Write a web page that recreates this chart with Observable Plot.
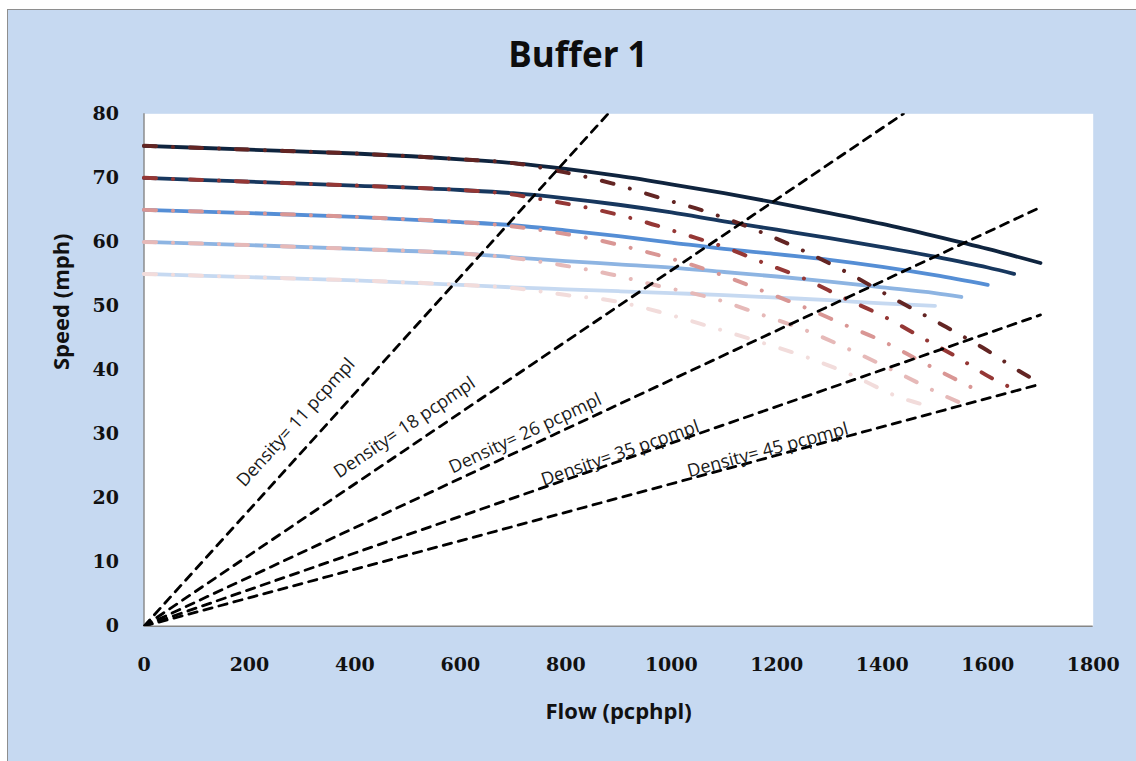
<!DOCTYPE html>
<html>
<head>
<meta charset="utf-8">
<script src="https://cdn.jsdelivr.net/npm/d3@7"></script>
<script src="https://cdn.jsdelivr.net/npm/@observablehq/plot@0.6"></script>
<style>
  html, body { margin: 0; padding: 0; background: #ffffff; }
  #wrap { position: relative; width: 1136px; height: 761px; overflow: hidden; background: #ffffff; }
  #bg { position: absolute; left: 7px; top: 9px; width: 1140px; height: 760px; background: #c6d9f1; border: 1.5px solid #8e8e8e; }
  #title { position: absolute; left: 0; top: 33px; width: 1156px; text-align: center; font: bold 35px "Open Sans", sans-serif; line-height: 42px; color: #0d0d0d; }
  #chart { position: absolute; left: 0; top: 0; }
</style>
</head>
<body>
<div id="wrap">
  <div id="bg"></div>
  <div id="title">Buffer 1</div>
  <div id="chart"></div>
</div>
<script>
// ---- tick labels ----
const xTicks = [0, 200, 400, 600, 800, 1000, 1200, 1400, 1600, 1800];
const yTicks = [0, 10, 20, 30, 40, 50, 60, 70, 80];

// ---- speed-flow curves (solid blue) ----
const blueFlow75 = [0, 200, 400, 600, 700, 800, 900, 1000, 1100, 1200, 1300, 1400, 1500, 1600, 1700];
const blueSpeed75 = [75, 74.4, 73.8, 72.9, 72.3, 71.4, 70.3, 69.0, 67.6, 66.1, 64.5, 62.8, 60.9, 58.9, 56.7];
const blueFlow70 = [0, 200, 400, 600, 700, 800, 900, 1000, 1100, 1200, 1300, 1400, 1500, 1600, 1650];
const blueSpeed70 = [70, 69.4, 68.8, 68.1, 67.6, 66.8, 65.8, 64.6, 63.2, 61.9, 60.6, 59.2, 57.7, 56.0, 55.0];
const blueFlow65 = [0, 200, 400, 600, 700, 800, 900, 1000, 1100, 1200, 1300, 1400, 1500, 1600];
const blueSpeed65 = [65, 64.5, 63.9, 63.1, 62.6, 61.8, 60.9, 59.9, 58.9, 58.1, 57.2, 56.1, 54.8, 53.3];
const blueFlow60 = [0, 200, 400, 600, 700, 800, 900, 1000, 1100, 1200, 1300, 1400, 1500, 1550];
const blueSpeed60 = [60, 59.5, 58.9, 58.2, 57.6, 57.0, 56.5, 56.0, 55.3, 54.6, 53.8, 52.9, 52.0, 51.4];
const blueFlow55 = [0, 200, 400, 600, 700, 800, 900, 1000, 1100, 1200, 1300, 1400, 1500];
const blueSpeed55 = [55, 54.5, 54.0, 53.3, 52.9, 52.6, 52.3, 52.0, 51.7, 51.3, 50.9, 50.4, 50.0];

// ---- buffer curves (dash-dot red) ----
const redFlow75 = [0, 200, 400, 600, 700, 796, 889, 981, 1071, 1165, 1251, 1334, 1412, 1506, 1590, 1675, 1700];
const redSpeed75 = [75, 74.4, 73.8, 72.9, 72.3, 70.9, 69.1, 66.8, 64.6, 61.7, 58.6, 55.2, 51.6, 47.4, 43.5, 39.1, 38.0];
const redFlow70 = [0, 200, 400, 600, 680, 771, 860, 942, 1024, 1100, 1179, 1254, 1326, 1402, 1472, 1542, 1608, 1645];
const redSpeed70 = [70, 69.4, 68.8, 68.1, 67.6, 66.4, 65.0, 63.3, 61.2, 59.2, 56.6, 54.2, 51.3, 48.4, 45.2, 42.0, 38.7, 37.2];
const redFlow65 = [0, 200, 400, 600, 680, 780, 860, 945, 1024, 1100, 1181, 1258, 1330, 1406, 1472, 1545, 1595];
const redSpeed65 = [65, 64.5, 63.9, 63.1, 62.6, 61.5, 60.3, 58.6, 56.8, 54.7, 52.1, 49.6, 47.0, 44.3, 41.4, 38.3, 36.2];
const redFlow60 = [0, 200, 400, 600, 700, 790, 882, 967, 1087, 1169, 1258, 1351, 1434, 1520, 1545];
const redSpeed60 = [60, 59.5, 58.9, 58.2, 57.5, 56.4, 55.0, 53.3, 51.0, 48.7, 46.1, 42.7, 39.4, 35.9, 35.0];
const redFlow55 = [0, 200, 400, 600, 700, 801, 896, 981, 1068, 1163, 1260, 1340, 1434, 1487];
const redSpeed55 = [55, 54.5, 54.0, 53.3, 52.8, 51.7, 50.7, 49.0, 46.9, 44.5, 41.9, 39.3, 35.7, 34.4];

// ---- density rays (from origin) ----
const densities = [11, 18, 26, 35, 45];
const densityEndFlow = [880, 1440, 1700, 1700, 1700];
const densityEndSpeed = [80, 80, 65.4, 48.6, 37.8];
const densityLabels = ["Density= 11 pcpmpl", "Density= 18 pcpmpl", "Density= 26 pcpmpl", "Density= 35 pcpmpl", "Density= 45 pcpmpl"];

// ---- styling ----
const blueColors = ["#0f243e", "#17375e", "#558ed5", "#8db4e2", "#c6d9f1"];
const redColors = ["#632523", "#953735", "#d99694", "#e6b9b8", "#f2dcdb"];
// label placement (flow, speed of the label centre)
const labelFlow = [288, 494, 723, 903, 1183];
const labelSpeed = [31.8, 31.0, 30.1, 27.0, 27.5];

const W = 1136, H = 761;
const mL = 143.5, mR = 43.3, mT = 113.3, mB = 135.3;
const pxPerFlow = (W - mL - mR) / 1800;
const pxPerSpeed = (H - mT - mB) / 80;

function series(flows, speeds, key) {
  return flows.map((f, i) => ({flow: f, speed: speeds[i], key}));
}
const blueSets = [
  series(blueFlow75, blueSpeed75, 0), series(blueFlow70, blueSpeed70, 1),
  series(blueFlow65, blueSpeed65, 2), series(blueFlow60, blueSpeed60, 3),
  series(blueFlow55, blueSpeed55, 4)
];
const redSets = [
  series(redFlow75, redSpeed75, 0), series(redFlow70, redSpeed70, 1),
  series(redFlow65, redSpeed65, 2), series(redFlow60, redSpeed60, 3),
  series(redFlow55, redSpeed55, 4)
];
const rays = densities.flatMap((d, i) => [
  {flow: 0, speed: 0, d},
  {flow: densityEndFlow[i], speed: densityEndSpeed[i], d}
]);
const labels = densities.map((d, i) => ({
  text: densityLabels[i],
  flow: labelFlow[i],
  speed: labelSpeed[i],
  angle: -Math.atan((densityEndSpeed[i] * pxPerSpeed) / (densityEndFlow[i] * pxPerFlow)) * 180 / Math.PI
}));

const marks = [
  Plot.frame({fill: "#ffffff", stroke: null}),
  Plot.ruleX([0], {stroke: "#868686", strokeWidth: 1.4}),
  Plot.ruleY([0], {stroke: "#868686", strokeWidth: 1.4}),
];
// blue solid curves (draw lightest first)
for (let i = 4; i >= 0; i--) {
  marks.push(Plot.line(blueSets[i], {x: "flow", y: "speed", stroke: blueColors[i], strokeWidth: 3.8, curve: "monotone-x"}));
}
for (let i = 4; i >= 0; i--) {
  marks.push(Plot.line(redSets[i], {x: "flow", y: "speed", stroke: redColors[i], strokeWidth: 4, curve: "monotone-x",
    strokeDasharray: "12,17,0.01,17", strokeLinecap: "round"}));
}
marks.push(Plot.line(rays, {x: "flow", y: "speed", z: "d", stroke: "#000000", strokeWidth: 2.8, strokeDasharray: "8.5,7", clip: true}));
marks.push(Plot.text(labels, {x: "flow", y: "speed", text: "text", rotate: "angle", fill: "#1a1a1a",
  fontSize: 18, fontFamily: "Open Sans", textAnchor: "middle", lineAnchor: "middle"}));

// axes
marks.push(Plot.axisX({ticks: xTicks, tickSize: 0, tickPadding: 31, tickFormat: d => String(d), label: null,
  fontFamily: "DejaVu Serif", fontSize: 19, fontWeight: "bold", fill: "#111111"}));
marks.push(Plot.axisY({ticks: yTicks, tickSize: 0, tickPadding: 25, tickFormat: d => String(d), label: null,
  fontFamily: "DejaVu Serif", fontSize: 19, fontWeight: "bold", fill: "#111111"}));

// axis titles
marks.push(Plot.text(["Flow (pcphpl)"], {frameAnchor: "bottom", dy: 93, text: d => d,
  fontFamily: "Open Sans", fontSize: 22, fontWeight: "bold", fill: "#111111"}));
marks.push(Plot.text(["Speed (mph)"], {frameAnchor: "left", dx: -82, rotate: -90, text: d => d,
  fontFamily: "Open Sans", fontSize: 22, fontWeight: "bold", fill: "#111111"}));

const chart = Plot.plot({
  width: W, height: H,
  marginLeft: mL, marginRight: mR, marginTop: mT, marginBottom: mB,
  style: {background: "transparent", overflow: "visible", fontFamily: "Open Sans"},
  x: {domain: [0, 1800]},
  y: {domain: [0, 80]},
  marks
});
document.getElementById("chart").appendChild(chart);
</script>
</body>
</html>
